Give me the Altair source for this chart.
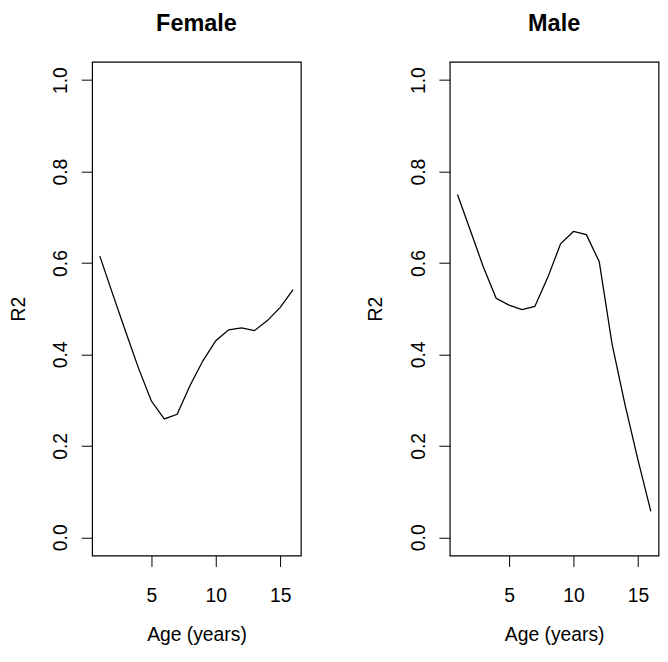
import altair as alt
import pandas as pd

ages = list(range(1, 17))
female_r2 = [0.615, 0.532, 0.450, 0.370, 0.298, 0.259, 0.269, 0.332,
             0.386, 0.430, 0.454, 0.458, 0.452, 0.474, 0.503, 0.542]
male_r2 = [0.750, 0.671, 0.592, 0.523, 0.508, 0.498, 0.505, 0.568,
           0.642, 0.669, 0.662, 0.603, 0.422, 0.290, 0.170, 0.057]
panels = ["Female", "Male"]
x_ticks = [5, 10, 15]
y_ticks = [0.0, 0.2, 0.4, 0.6, 0.8, 1.0]

FONT = "Liberation Sans"
FS = 19.5
W, H = 211, 499


def panel(name, values):
    df = pd.DataFrame({"age": ages, "r2": values})
    line = alt.Chart(df).mark_line(color="black", strokeWidth=1.3).encode(
        x=alt.X("age:Q",
                scale=alt.Scale(domain=[0.4, 16.6], nice=False, zero=False),
                axis=alt.Axis(values=x_ticks, domain=False, grid=False,
                              tickSize=11, tickColor="black", tickWidth=1,
                              labelFont=FONT, labelFontSize=FS, labelColor="black",
                              labelBaseline="alphabetic", labelPadding=35,
                              title="Age (years)", titleFont=FONT, titleFontSize=FS,
                              titleFontWeight="normal", titleColor="black",
                              titleBaseline="alphabetic", titleY=86)),
        y=alt.Y("r2:Q",
                scale=alt.Scale(domain=[-0.04, 1.04], nice=False, zero=False),
                axis=alt.Axis(values=y_ticks, format=".1f", domain=False, grid=False,
                              tickSize=11, tickColor="black", tickWidth=1,
                              labelFont=FONT, labelFontSize=FS, labelColor="black",
                              labelAngle=270, labelAlign="center",
                              labelBaseline="alphabetic", labelPadding=15,
                              title="R2", titleFont=FONT, titleFontSize=FS,
                              titleFontWeight="normal", titleColor="black",
                              titleAngle=270, titleBaseline="alphabetic",
                              titleX=-68.5, titleY=H / 2)),
    )
    title = alt.Chart(pd.DataFrame({"t": [name]})).mark_text(
        font=FONT, fontSize=23.7, fontWeight="bold", color="black",
        align="center", baseline="alphabetic",
    ).encode(text="t:N", x=alt.value(W / 2), y=alt.value(-31))
    return alt.layer(line, title).properties(width=W, height=H)


chart = alt.hconcat(panel(panels[0], female_r2), panel(panels[1], male_r2),
                    spacing=63.5).properties(
    padding={"top": 0, "left": -1, "right": 0, "bottom": 0}
).configure_view(stroke="black", strokeWidth=1.2)

chart.save("out.html", embed_options={"renderer": "svg", "actions": False})
